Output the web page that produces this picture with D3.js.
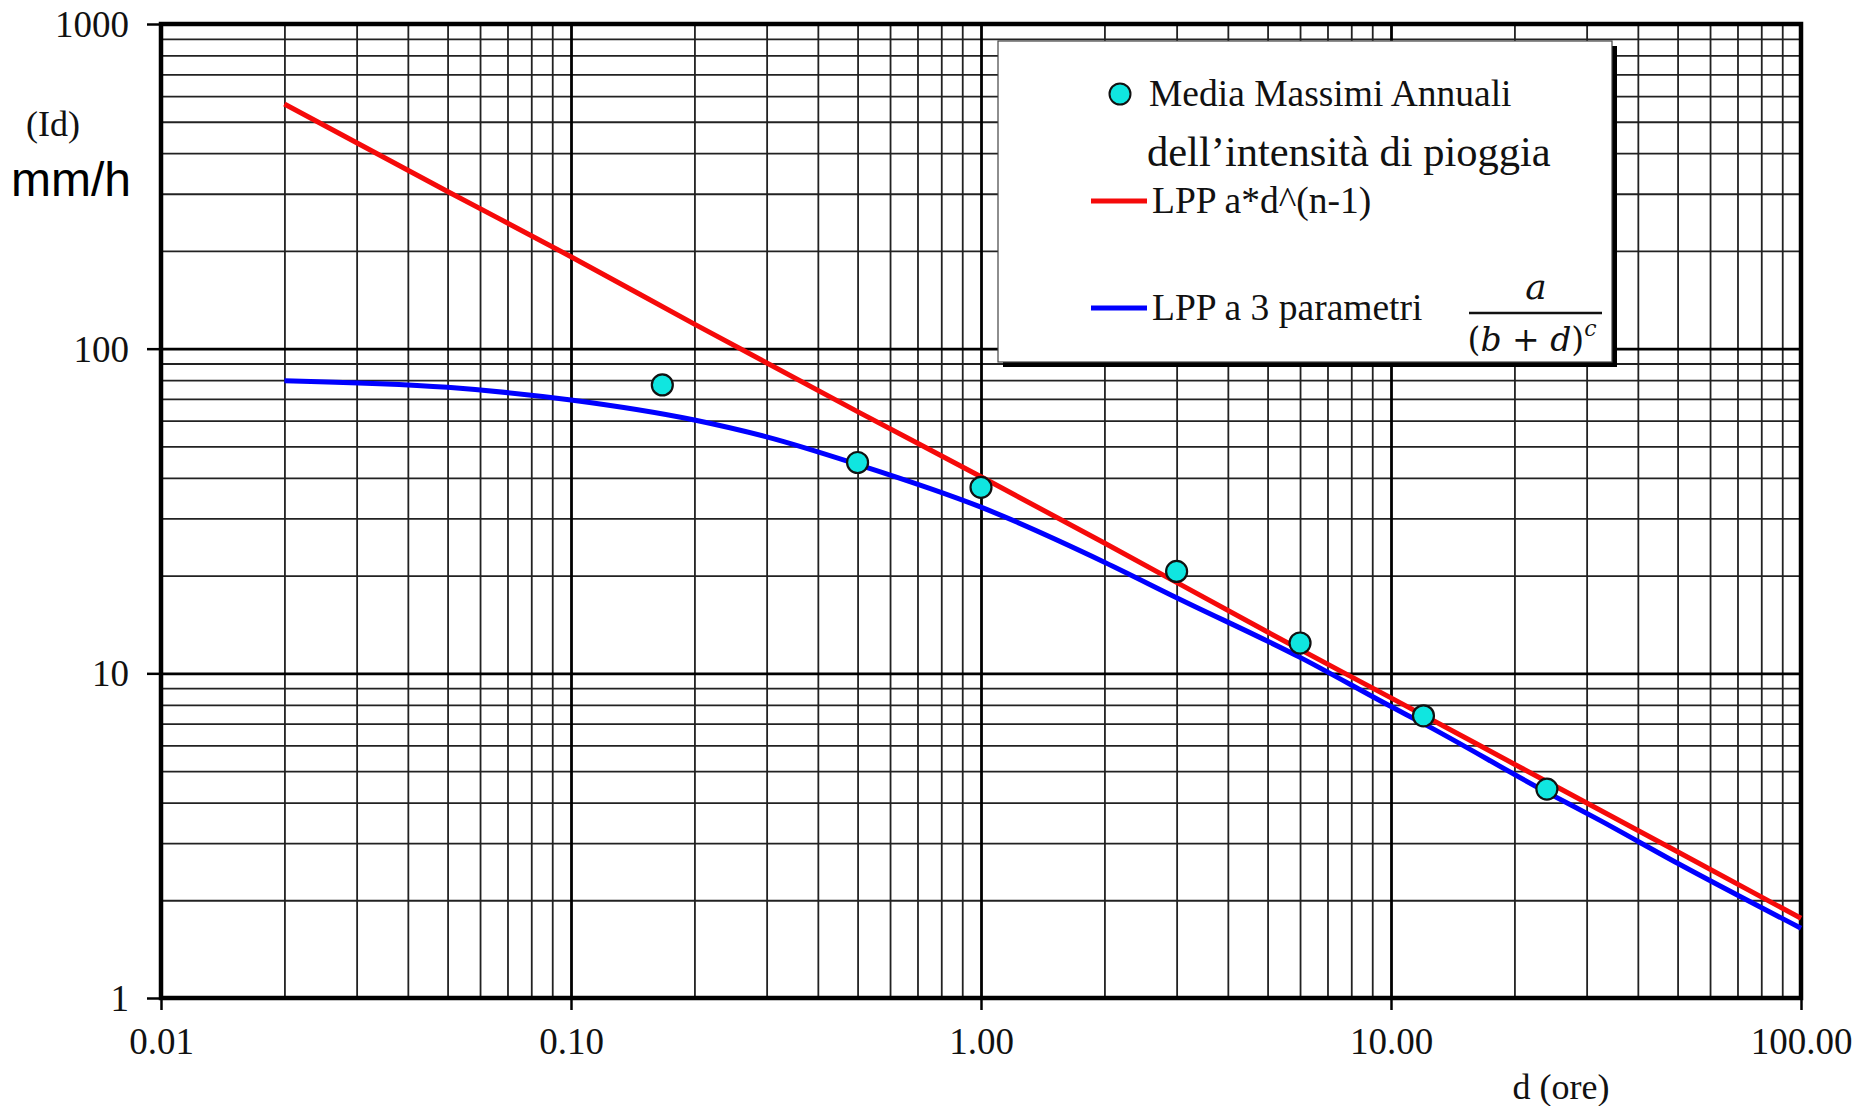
<!DOCTYPE html>
<html>
<head>
<meta charset="utf-8">
<script src="https://cdn.jsdelivr.net/npm/d3@7"></script>
<style>
  html, body { margin: 0; padding: 0; background: #fff; }
  svg { display: block; }
  .grid .domain { display: none; }
  .grid.minor line { stroke: #222; stroke-width: 1.8; }
  .grid.major line { stroke: #000; stroke-width: 2.8; }
  .axis .domain { display: none; }
  .axis line { stroke: #000; stroke-width: 2.5; }
  .axis text { font-family: "Liberation Serif", "Times New Roman", serif; font-size: 37px; fill: #111; }
  .legend text { font-family: "Liberation Serif", "Times New Roman", serif; fill: #111; }
</style>
</head>
<body>
<svg id="chart" width="1858" height="1106"></svg>
<script>
// observed values: mean of annual maxima of rain intensity
var durations   = [0.167, 0.5, 1, 3, 6, 12, 24];
var intensities = [77.3, 44.6, 37.4, 20.6, 12.4, 7.4, 4.4];

// LPP a*d^(n-1)
var lppDurations = [0.02, 0.05, 0.1, 0.2, 0.5, 1, 2, 5, 10, 20, 50, 100];
var lppValues    = [567, 305, 192, 119, 64, 40.3, 25.2, 13.4, 8.4, 5.25, 2.82, 1.76];

// LPP a 3 parametri
var lpp3Durations = [0.02, 0.05, 0.1, 0.2, 0.3, 0.5, 1, 2, 3, 6, 10, 12, 24, 32, 50, 100];
var lpp3Values    = [79.7, 76, 69.5, 60.3, 53.5, 44, 32.5, 22, 17.1, 11.2, 7.9, 7.0, 4.3, 3.55, 2.6, 1.64];

var xTickValues = [0.01, 0.1, 1, 10, 100];
var xTickLabels = ['0.01', '0.10', '1.00', '10.00', '100.00'];
var yTickValues = [1, 10, 100, 1000];
var yTickLabels = ['1', '10', '100', '1000'];

var svg = d3.select('#chart');

var margin = { left: 161, right: 57, top: 24, bottom: 108 };
var width  = 1858 - margin.left - margin.right;
var height = 1106 - margin.top - margin.bottom;

var x = d3.scaleLog().domain([0.01, 100]).range([0, width]);
var y = d3.scaleLog().domain([1, 1000]).range([height, 0]);

var plot = svg.append('g')
  .attr('transform', 'translate(' + margin.left + ',' + margin.top + ')');

/**
 * Grid
 */
var xMinor = x.ticks().filter(function (v) { return xTickValues.indexOf(v) < 0; });
var yMinor = y.ticks().filter(function (v) { return yTickValues.indexOf(v) < 0; });

plot.append('g')
  .attr('class', 'grid minor')
  .attr('transform', 'translate(0,' + height + ')')
  .call(d3.axisBottom(x).tickValues(xMinor).tickSize(-height).tickFormat(''));

plot.append('g')
  .attr('class', 'grid minor')
  .call(d3.axisLeft(y).tickValues(yMinor).tickSize(-width).tickFormat(''));

plot.append('g')
  .attr('class', 'grid major')
  .attr('transform', 'translate(0,' + height + ')')
  .call(d3.axisBottom(x).tickValues(xTickValues).tickSize(-height).tickFormat(''));

plot.append('g')
  .attr('class', 'grid major')
  .call(d3.axisLeft(y).tickValues(yTickValues).tickSize(-width).tickFormat(''));

/**
 * Axes
 */
var xAxis = plot.append('g')
  .attr('class', 'axis')
  .attr('transform', 'translate(0,' + height + ')')
  .call(d3.axisBottom(x)
    .tickValues(xTickValues)
    .tickSize(12)
    .tickPadding(18)
    .tickFormat(function (d, i) { return xTickLabels[i]; }));

var yAxis = plot.append('g')
  .attr('class', 'axis')
  .call(d3.axisLeft(y)
    .tickValues(yTickValues)
    .tickSize(14)
    .tickPadding(18)
    .tickFormat(function (d, i) { return yTickLabels[i]; }));

yAxis.selectAll('text').attr('dy', '0.34em');

plot.append('rect')
  .attr('width', width)
  .attr('height', height)
  .attr('fill', 'none')
  .attr('stroke', '#000')
  .attr('stroke-width', 4.5);

/**
 * Lines
 */
var line = d3.line()
  .x(function (d) { return x(d[0]); })
  .y(function (d) { return y(d[1]); })
  .curve(d3.curveMonotoneX);

plot.append('path')
  .datum(d3.zip(lpp3Durations, lpp3Values))
  .attr('fill', 'none')
  .attr('stroke', '#0000ff')
  .attr('stroke-width', 5)
  .attr('d', line);

plot.append('path')
  .datum(d3.zip(lppDurations, lppValues))
  .attr('fill', 'none')
  .attr('stroke', '#f50a0a')
  .attr('stroke-width', 5)
  .attr('d', line);

plot.selectAll('circle.obs')
  .data(d3.zip(durations, intensities))
  .enter()
  .append('circle')
  .attr('class', 'obs')
  .attr('cx', function (d) { return x(d[0]); })
  .attr('cy', function (d) { return y(d[1]); })
  .attr('r', 10.5)
  .attr('fill', '#10e6e0')
  .attr('stroke', '#111')
  .attr('stroke-width', 2.2);

/**
 * Axis titles
 */
svg.append('text')
  .attr('x', 53)
  .attr('y', 123)
  .attr('dy', '0.35em')
  .attr('text-anchor', 'middle')
  .style('font-family', '"Liberation Serif", serif')
  .style('font-size', '36px')
  .style('fill', '#111')
  .text('(Id)');

svg.append('text')
  .attr('x', 11)
  .attr('y', 196)
  .style('font-family', '"Liberation Sans", Arial, sans-serif')
  .style('font-size', '48px')
  .style('fill', '#000')
  .text('mm/h');

svg.append('text')
  .attr('x', 1561)
  .attr('y', 1099)
  .attr('text-anchor', 'middle')
  .style('font-family', '"Liberation Serif", serif')
  .style('font-size', '36px')
  .style('fill', '#111')
  .text('d (ore)');

/**
 * Legend
 */
var legend = svg.append('g').attr('class', 'legend');

legend.append('rect')
  .attr('x', 1003)
  .attr('y', 46)
  .attr('width', 614)
  .attr('height', 321)
  .attr('fill', '#000');

legend.append('rect')
  .attr('x', 998)
  .attr('y', 41)
  .attr('width', 614)
  .attr('height', 321)
  .attr('fill', '#fff')
  .attr('stroke', '#444')
  .attr('stroke-width', 1.2);

legend.append('circle')
  .attr('cx', 1120)
  .attr('cy', 94)
  .attr('r', 10.5)
  .attr('fill', '#10e6e0')
  .attr('stroke', '#111')
  .attr('stroke-width', 2);

legend.append('text')
  .attr('x', 1149).attr('y', 94).attr('dy', '0.33em')
  .style('font-size', '37.5px')
  .text('Media Massimi Annuali');

legend.append('text')
  .attr('x', 1147).attr('y', 152).attr('dy', '0.33em')
  .style('font-size', '42.5px')
  .text('dell\u2019intensità di pioggia');

legend.append('line')
  .attr('x1', 1091).attr('x2', 1147)
  .attr('y1', 201).attr('y2', 201)
  .attr('stroke', '#f50a0a').attr('stroke-width', 5);

legend.append('text')
  .attr('x', 1152).attr('y', 201).attr('dy', '0.33em')
  .style('font-size', '37.5px')
  .text('LPP a*d^(n-1)');

legend.append('line')
  .attr('x1', 1091).attr('x2', 1147)
  .attr('y1', 308).attr('y2', 308)
  .attr('stroke', '#0000ff').attr('stroke-width', 5);

legend.append('text')
  .attr('x', 1152).attr('y', 308).attr('dy', '0.33em')
  .style('font-size', '37.5px')
  .text('LPP a 3 parametri');

// formula a / (b + d)^c
legend.append('text')
  .attr('x', 1536).attr('y', 299)
  .attr('text-anchor', 'middle')
  .style('font-family', '"DejaVu Serif", serif')
  .style('font-style', 'italic')
  .style('font-size', '36px')
  .text('a');

legend.append('line')
  .attr('x1', 1469).attr('x2', 1602)
  .attr('y1', 313).attr('y2', 313)
  .attr('stroke', '#111').attr('stroke-width', 2.5);

var denom = legend.append('text')
  .attr('x', 1532).attr('y', 351)
  .attr('text-anchor', 'middle')
  .style('font-family', '"DejaVu Serif", serif')
  .style('font-size', '33px');

denom.append('tspan').text('(');
denom.append('tspan').style('font-style', 'italic').text('b');
denom.append('tspan').text(' + ');
denom.append('tspan').style('font-style', 'italic').text('d');
denom.append('tspan').text(')');
denom.append('tspan')
  .style('font-style', 'italic')
  .style('font-size', '22px')
  .attr('dy', '-15')
  .text('c');
</script>
</body>
</html>
